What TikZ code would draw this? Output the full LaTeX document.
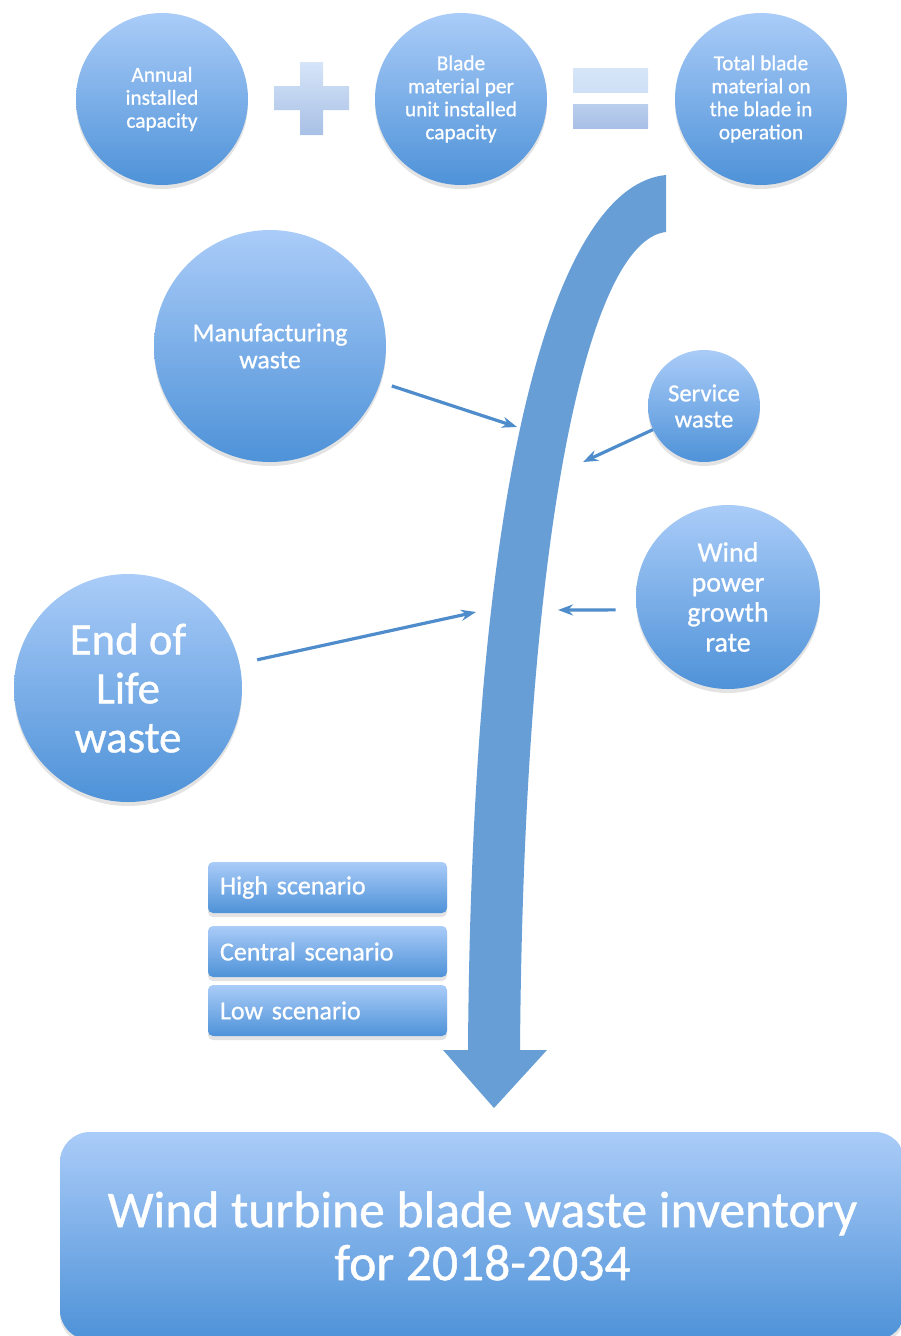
\documentclass[tikz,border=0pt]{standalone}
\usepackage{fontspec}
\setmainfont{Carlito}
\newfontfamily\labelfont{Carlito}[FakeBold=0.8]
\usetikzlibrary{arrows.meta,shadows}

\definecolor{bubtop}{RGB}{170,204,248}
\definecolor{bubbot}{RGB}{78,146,216}
\definecolor{flowblue}{RGB}{104,158,214}
\definecolor{linkblue}{RGB}{78,140,204}
\definecolor{signtop}{RGB}{214,229,248}
\definecolor{signbot}{RGB}{168,192,230}

\begin{document}
\begin{tikzpicture}[x=1pt, y=-1pt,
    every node/.style={text=white, align=center, inner sep=0pt},
    softshadow/.style={drop shadow={shadow xshift=0pt, shadow yshift=-4pt, opacity=0.22}},
    bubble/.style={circle, top color=bubtop, bottom color=bubbot, softshadow},
    scenbox/.style={rectangle, rounded corners=5pt, minimum width=239pt, minimum height=51pt,
        text width=215pt, align=left, top color=bubtop, bottom color=bubbot, softshadow,
        font=\labelfont\fontsize{26}{28}\selectfont},
    link/.style={draw=linkblue, line width=3.2pt, -{Stealth[length=15pt, width=11pt]}}]

    \fill[white] (0,0) rectangle (901,1336);
    \useasboundingbox (0,0) rectangle (901,1336);
    \clip (0,0) rectangle (901,1336);

    % top row: inputs and result
    \node[bubble, minimum size=172pt, font=\labelfont\fontsize{21.3}{23}\selectfont] (annual) at (162,99) {Annual\\installed\\capacity};
    \node[bubble, minimum size=172pt, font=\labelfont\fontsize{21.3}{23}\selectfont] (blade) at (461,99) {Blade\\material per\\unit installed\\capacity};
    \node[bubble, minimum size=172pt, font=\labelfont\fontsize{21.3}{23}\selectfont] (total) at (761,99) {Total blade\\material on\\the blade in\\operation};

    % plus and equals signs
    \shade[top color=signtop, bottom color=signbot] (300,62) -- (323,62) -- (323,86) -- (349,86) -- (349,110) -- (323,110)
        -- (323,135) -- (300,135) -- (300,110) -- (274,110) -- (274,86) -- (300,86) -- cycle;
    \shade[top color=signtop, bottom color=signtop!85!signbot] (573,68) rectangle (648,92);
    \shade[top color=signtop!40!signbot, bottom color=signbot] (573,104) rectangle (648,128);

    % main flow down to the inventory
    \fill[flowblue] (666,175) .. controls (560,185) and (472,450) .. (468,1050) -- (443,1050) -- (494,1108) -- (547,1050)
        -- (520,1050) .. controls (524,520) and (590,240) .. (666,232) -- cycle;

    % waste streams
    \node[bubble, minimum size=232pt, font=\labelfont\fontsize{25.8}{27}\selectfont] (manuf) at (270,346) {Manufacturing\\waste};
    \node[bubble, minimum size=112pt, font=\labelfont\fontsize{24.6}{26}\selectfont] (service) at (704,406) {Service\\waste};
    \node[bubble, minimum size=184pt, font=\labelfont\fontsize{28}{30}\selectfont] (growth) at (728,597) {Wind\\power\\growth\\rate};
    \node[bubble, minimum size=228pt, font=\labelfont\fontsize{44.8}{49}\selectfont] (eol) at (128,688) {End of\\Life\\waste};

    \coordinate (mtip) at (517,427);
    \coordinate (stip) at (583,462);
    \coordinate (gtip) at (558,610);
    \coordinate (etip) at (476,612);
    \draw[link, shorten <=12pt] (manuf) -- (mtip);
    \draw[link] (service) -- (stip);
    \draw[link, shorten <=21pt] (growth.188) -- (gtip);
    \draw[link, shorten <=18pt] (eol) -- (etip);

    % scenarios
    \node[scenbox] (high) at (327.5,887.5) {High scenario};
    \node[scenbox] (central) at (327.5,951.5) {Central scenario};
    \node[scenbox] (low) at (327.5,1010.5) {Low scenario};

    % result
    \node[rectangle, rounded corners=30pt, minimum width=845pt, minimum height=208pt, top color=bubtop, bottom color=bubbot,
        softshadow, font=\labelfont\fontsize{51.5}{53}\selectfont] (inventory) at (482.5,1236) {Wind turbine blade waste inventory\\for 2018-2034};
\end{tikzpicture}
\end{document}
